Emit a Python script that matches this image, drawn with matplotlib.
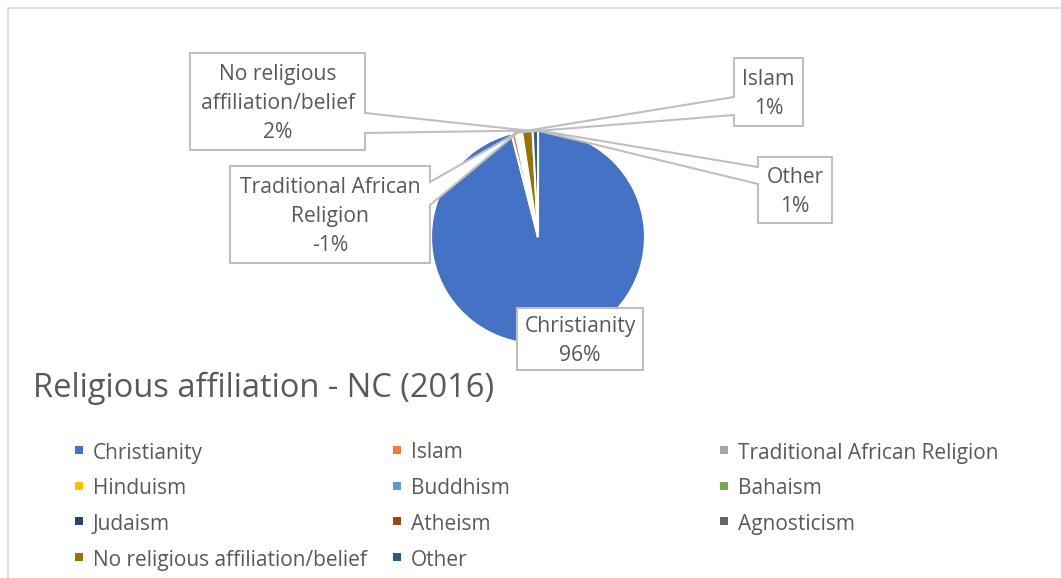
import textwrap
import numpy as np
import matplotlib.pyplot as plt
from matplotlib.patches import Polygon, Rectangle

religions = ["Christianity", "Islam", "Traditional African Religion", "Hinduism",
             "Buddhism", "Bahaism", "Judaism", "Atheism", "Agnosticism",
             "No religious affiliation/belief", "Other"]
shares = [96.0, 0.6, -1.0, 0, 0, 0, 0, 0, 0, 1.6, 0.8]
colors = ["#4472C4", "#ED7D31", "#A5A5A5", "#FFC000", "#5B9BD5", "#70AD47",
          "#264478", "#9E480E", "#636363", "#997300", "#255E91"]
title = "Religious affiliation - NC (2016)"

plt.rcParams['font.family'] = ['Open Sans', 'DejaVu Sans']
txt = '#595959'
W, H = 1061, 578

fig = plt.figure(figsize=(W / 100, H / 100), dpi=100)
ax = fig.add_axes([0, 0, 1, 1])

def Y(y):
    return H - y

# pie (negative share drawn as blank wedge, like the source)
sizes = np.abs(shares)
face = ['white' if s < 0 else c for s, c in zip(shares, colors)]
cx, cy, r = 538, Y(237), 107
wedges, _ = ax.pie(sizes, colors=face, startangle=90, counterclock=False,
                   center=(cx, cy), radius=r,
                   wedgeprops=dict(edgecolor='white', linewidth=1.5))
ax.set_xlim(0, W)
ax.set_ylim(0, H)
ax.set_aspect('auto')
ax.axis('off')

# callout boxes: box (x0, y0, x1, y1), side of pointer, notch span
callouts = {
    0: ((517, 308, 643, 370), None, None),
    1: ((734, 58, 803, 126), 'left', (97, 115)),
    2: ((230, 166, 430, 263), 'right', (182, 205)),
    9: ((190, 53, 365, 150), 'right', (113, 133)),
    10: ((758, 157, 832, 223), 'left', (167, 184)),
}
for i, (box, side, notch) in callouts.items():
    x0, y0, x1, y1 = box
    w = wedges[i]
    th = np.deg2rad((w.theta1 + w.theta2) / 2)
    tip = (cx + r * np.cos(th), cy + r * np.sin(th))
    if side == 'right':
        pts = [(x0, Y(y0)), (x1, Y(y0)), (x1, Y(notch[0])), tip,
               (x1, Y(notch[1])), (x1, Y(y1)), (x0, Y(y1))]
    elif side == 'left':
        pts = [(x0, Y(y0)), (x1, Y(y0)), (x1, Y(y1)), (x0, Y(y1)),
               (x0, Y(notch[1])), tip, (x0, Y(notch[0]))]
    else:
        pts = [(x0, Y(y0)), (x1, Y(y0)), (x1, Y(y1)), (x0, Y(y1))]
    ax.add_patch(Polygon(pts, closed=True, facecolor='white', edgecolor='#BFBFBF',
                         linewidth=1.5, zorder=5))
    label = textwrap.fill(religions[i], 19) + "\n" + f"{shares[i]:.0f}%"
    ax.text((x0 + x1) / 2, Y((y0 + y1) / 2) - 2, label, ha='center', va='center',
            fontsize=15.2, color=txt, linespacing=1.48, zorder=6)

ax.text(33, Y(388), title, ha='left', va='center', fontsize=23.5, color=txt)

# legend, filled row by row in three columns
col_x = [75, 393, 720]
for i, (name, c) in enumerate(zip(religions, colors)):
    row, col = divmod(i, 3)
    y = 450 + row * 35.7
    ax.add_patch(Rectangle((col_x[col], Y(y) - 4), 8, 8, facecolor=c,
                           edgecolor='none'))
    ax.text(col_x[col] + 18, Y(y) - 3, name, ha='left', va='center',
            fontsize=15, color=txt)

# chart area border
ax.add_patch(Rectangle((8, Y(600)), 1100, 592, facecolor='none',
                       edgecolor='#D9D9D9', linewidth=1.2, clip_on=True))

fig.savefig('out.png', dpi=100)
